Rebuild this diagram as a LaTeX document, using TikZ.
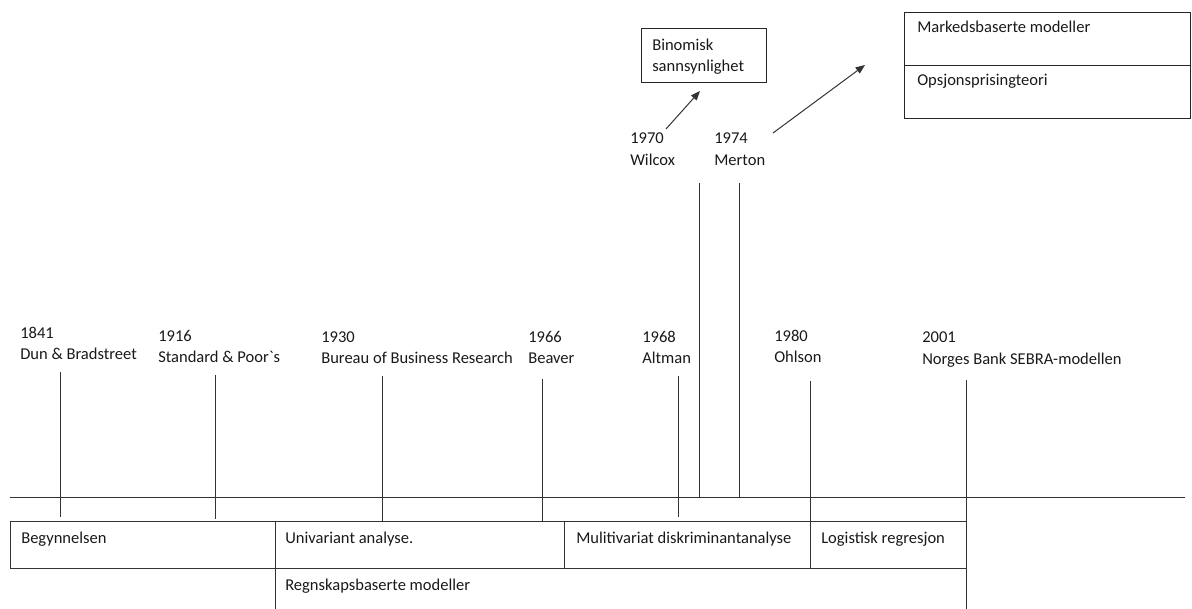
\documentclass[tikz,border=0pt]{standalone}
\usepackage{fontspec}
\setmainfont{Carlito}
\usetikzlibrary{arrows.meta}
\begin{document}
\begin{tikzpicture}[x=0.75pt,y=-0.75pt,
  lbl/.style={font=\fontsize{12.4}{14}\selectfont, inner sep=0pt, anchor=base west, text=black!90},
  ln/.style={draw=black!80, line width=0.75pt},
  arr/.style={ln, -{Triangle[length=7pt,width=5.5pt]}},
  boxed/.style={draw=black!85, line width=0.75pt, inner sep=0pt}]
\useasboundingbox (0,0) rectangle (1192,609);
% axis
\coordinate (axL) at (10,497);
\coordinate (axR) at (1185,497);
\draw[ln] (axL) -- (axR);
% year labels
\node[lbl] (y1841) at (20,339) {1841};
\node[lbl] (n1841) at (20,360) {Dun \& Bradstreet};
\node[lbl] (y1916) at (158,342) {1916};
\node[lbl] (n1916) at (158,363) {Standard \& Poor\textasciigrave s};
\node[lbl] (y1930) at (321,343) {1930};
\node[lbl] (n1930) at (321,364) {Bureau of Business Research};
\node[lbl] (y1966) at (528,343) {1966};
\node[lbl] (n1966) at (528,364) {Beaver};
\node[lbl] (y1968) at (642,343) {1968};
\node[lbl] (n1968) at (642,364) {Altman};
\node[lbl] (y1980) at (774,342) {1980};
\node[lbl] (n1980) at (774,363) {Ohlson};
\node[lbl] (y2001) at (922,343) {2001};
\node[lbl] (n2001) at (922,365) {Norges Bank SEBRA-modellen};
\node[lbl] (y1970) at (630,144) {1970};
\node[lbl] (n1970) at (630,166) {Wilcox};
\node[lbl] (y1974) at (714,144) {1974};
\node[lbl] (n1974) at (714,166) {Merton};
% tick lines
\coordinate (t1a) at (60,372);  \coordinate (t1b) at (60,517);
\coordinate (t2a) at (215,375); \coordinate (t2b) at (215,519);
\coordinate (t3a) at (382,376); \coordinate (t3b) at (382,521);
\coordinate (t4a) at (542,379); \coordinate (t4b) at (542,522);
\coordinate (t5a) at (678,376); \coordinate (t5b) at (678,517);
\coordinate (t6a) at (699,183); \coordinate (t6b) at (699,497);
\coordinate (t7a) at (739,183); \coordinate (t7b) at (739,497);
\coordinate (t8a) at (810,381); \coordinate (t8b) at (810,568);
\coordinate (t9a) at (966,380); \coordinate (t9b) at (966,609);
\foreach \i in {1,...,9} \draw[ln] (t\i a) -- (t\i b);
% bottom boxes
\coordinate (bTL) at (10,521);
\coordinate (bTR) at (966,521);
\coordinate (bBL) at (10,568);
\coordinate (bBR) at (966,568);
\draw[ln] (bTL) -- (bTR);
\draw[ln] (bBL) -- (bBR);
\draw[ln] (bTL) -- (bBL);
\coordinate (d1a) at (275,521); \coordinate (d1b) at (275,609);
\coordinate (d2a) at (564,521); \coordinate (d2b) at (564,568);
\draw[ln] (d1a) -- (d1b);
\draw[ln] (d2a) -- (d2b);
\node[lbl] (begyn) at (21,543) {Begynnelsen};
\node[lbl] (univ) at (285,543) {Univariant analyse.};
\node[lbl] (multi) at (576,543) {Mulitivariat diskriminantanalyse};
\node[lbl] (logit) at (821,543) {Logistisk regresjon};
\node[lbl] (regn) at (285,590) {Regnskapsbaserte modeller};
% Binomisk box
\node[boxed, minimum width=125*0.75pt, minimum height=54*0.75pt, anchor=north west] (binbox) at (641,28) {};
\node[lbl] (bin1) at (652,51) {Binomisk};
\node[lbl] (bin2) at (652,72) {sannsynlighet};
% Markedsbaserte box
\node[boxed, minimum width=286*0.75pt, minimum height=53*0.75pt, anchor=north west] (markbox) at (904,12) {};
\node[boxed, minimum width=286*0.75pt, minimum height=53*0.75pt, anchor=north west] (opsjbox) at (904,65) {};
\node[lbl] (mark) at (917,33) {Markedsbaserte modeller};
\node[lbl] (opsj) at (917,86) {Opsjonsprisingteori};
% arrows
\coordinate (a1s) at (666,129); \coordinate (a1e) at (700,91);
\coordinate (a2s) at (773,133); \coordinate (a2e) at (865,65);
\draw[arr] (a1s) -- (a1e);
\draw[arr] (a2s) -- (a2e);
\end{tikzpicture}
\end{document}
